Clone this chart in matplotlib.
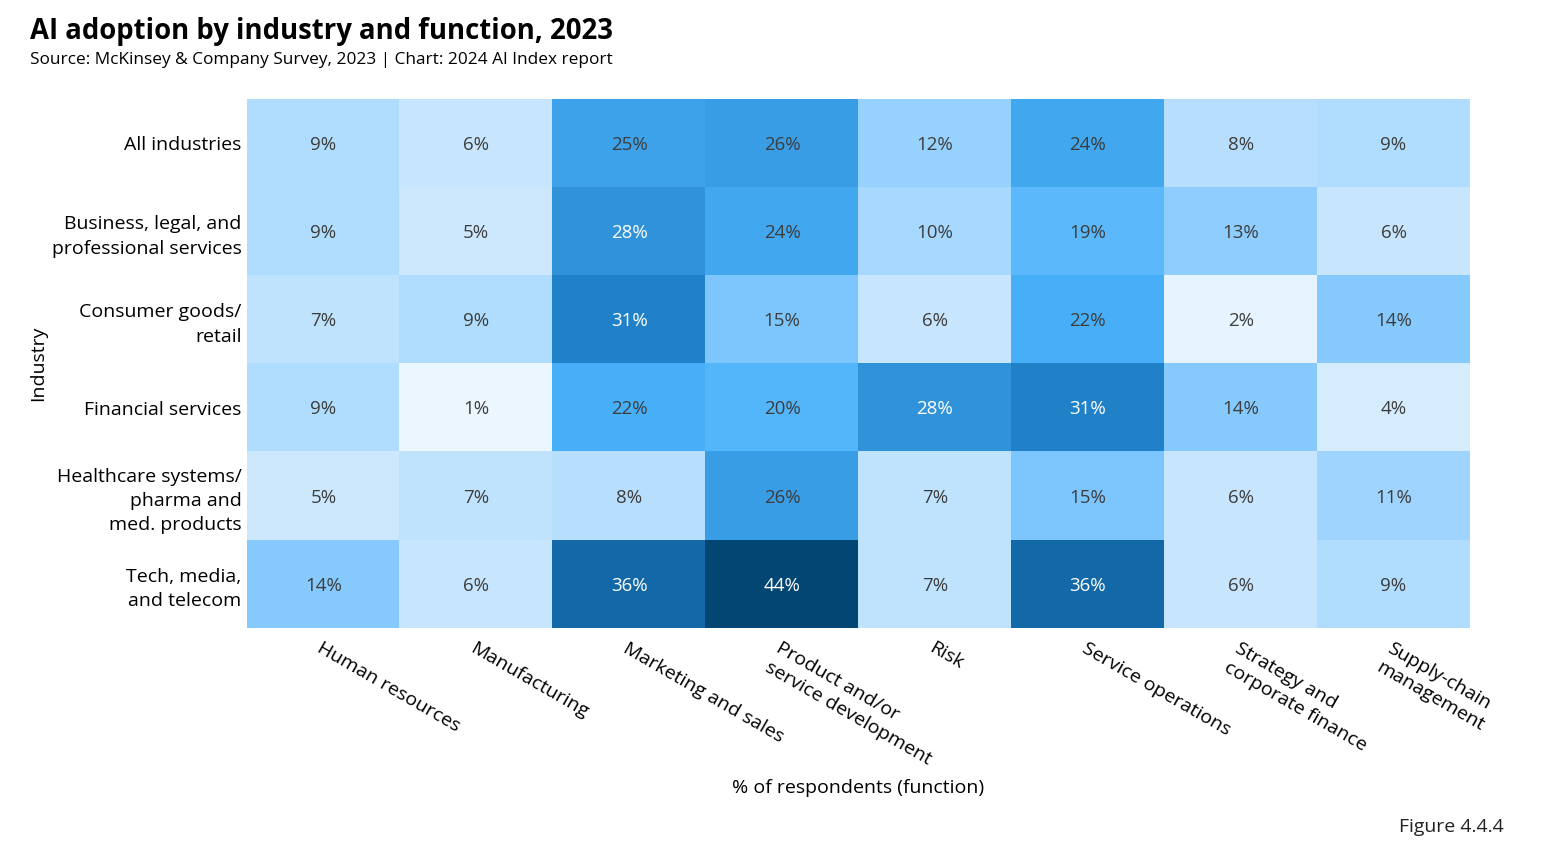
import matplotlib
matplotlib.use("Agg")
import matplotlib.pyplot as plt
from matplotlib.colors import LinearSegmentedColormap
import numpy as np

industries = ["All industries", "Business, legal, and\nprofessional services", "Consumer goods/\nretail",
              "Financial services", "Healthcare systems/\npharma and\nmed. products", "Tech, media,\nand telecom"]
functions = ["Human resources", "Manufacturing", "Marketing and sales", "Product and/or\nservice development",
             "Risk", "Service operations", "Strategy and\ncorporate finance", "Supply-chain\nmanagement"]
values = np.array([
    [9, 6, 25, 26, 12, 24, 8, 9],
    [9, 5, 28, 24, 10, 19, 13, 6],
    [7, 9, 31, 15, 6, 22, 2, 14],
    [9, 1, 22, 20, 28, 31, 14, 4],
    [5, 7, 8, 26, 7, 15, 6, 11],
    [14, 6, 36, 44, 7, 36, 6, 9],
])

plt.rcParams['font.family'] = ['Open Sans', 'DejaVu Sans']

stops = [(0.0, "#f2f9ff"), (2/44, "#e5f4fe"), (6/44, "#c6e5fd"), (9/44, "#b0dcfd"),
         (14/44, "#86cafe"), (19/44, "#5ab8fb"), (22/44, "#48b0f9"), (26/44, "#3a9ee6"),
         (31/44, "#2182c9"), (36/44, "#146aa8"), (1.0, "#024673")]
cmap = LinearSegmentedColormap.from_list("ai", stops)

fig = plt.figure(figsize=(15.59, 8.57), dpi=100)
ax = fig.add_axes([247/1559, 1-628/857, (1470-247)/1559, (628-99)/857])
ax.imshow(values, cmap=cmap, vmin=0, vmax=44, aspect='auto')

for i in range(values.shape[0]):
    for j in range(values.shape[1]):
        v = values[i, j]
        ax.text(j, i + 0.02, f"{v}%", ha='center', va='center', fontsize=13.5,
                color='white' if v >= 28 else '#3d3d3d')

ax.set_xticks(range(len(functions)))
ax.set_xticklabels(functions, rotation=-30, ha='left', va='top', rotation_mode='anchor',
                   fontsize=14, linespacing=1.3)
ax.set_yticks(range(len(industries)))
ax.set_yticklabels(industries, fontsize=14, linespacing=1.45)
ax.tick_params(axis='y', length=0, pad=4)
ax.tick_params(axis='x', length=0, pad=8)
for s in ax.spines.values():
    s.set_visible(False)

fig.text(38/1559, 1-363/857, "Industry", rotation=90, ha='center', va='center', fontsize=14)
fig.text(858/1559, 1-788/857, "% of respondents (function)", ha='center', va='center', fontsize=14)
fig.text(30/1559, 1-31/857, "AI adoption by industry and function, 2023", ha='left', va='center',
         fontsize=19.8, fontweight='bold')
fig.text(30/1559, 1-60/857, "Source: McKinsey & Company Survey, 2023 | Chart: 2024 AI Index report",
         ha='left', va='center', fontsize=12.4)
fig.text(1504/1559, 1-827/857, "Figure 4.4.4", ha='right', va='center', fontsize=14, color='#222222')

fig.savefig("out.png", dpi=100)
